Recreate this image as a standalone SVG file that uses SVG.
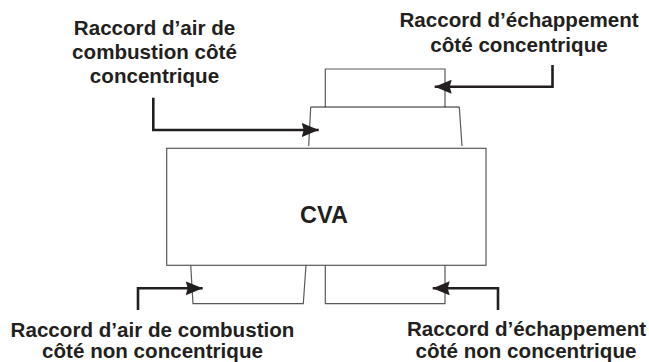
<svg xmlns="http://www.w3.org/2000/svg" width="649" height="362" viewBox="0 0 649 362">
<style>
text{font-family:"Liberation Sans",Arial,sans-serif;font-weight:bold;font-size:20.6px;fill:#231f20;text-anchor:middle}
.s{fill:none;stroke:#58595b;stroke-width:1.2}
.k{fill:none;stroke:#231f20;stroke-width:1.2}
.a{fill:none;stroke:#231f20;stroke-width:2.6}
</style>
<defs><marker id="h" markerUnits="userSpaceOnUse" markerWidth="18" markerHeight="14" refX="17" refY="7" orient="auto"><path d="M0 0L17 7L0 14L2 7Z" fill="#231f20"/></marker></defs>
<rect width="649" height="362" fill="#fff"/>
<g id="cva"><rect class="s" x="166.7" y="148.3" width="319.3" height="117"/><text x="324" y="223" style="font-size:23.5px">CVA</text></g>
<g id="top-outer"><path class="s" d="M325.3 107V69H445V107"/></g>
<g id="top-inner"><path class="s" d="M308.7 146L310.7 107M459.3 107L462 146"/><path class="k" d="M310.7 107H459.3"/></g>
<g id="bottom-left"><path class="s" d="M190.7 265L193 303.7H303.3L306 265"/></g>
<g id="bottom-right"><path class="s" d="M325.3 265V303.7H445V265"/></g>
<g id="connectors">
<path class="a" marker-end="url(#h)" d="M153.3 97.7V130H318.7"/>
<path class="a" marker-end="url(#h)" d="M552.5 65V86.7H434.7"/>
<path class="a" marker-end="url(#h)" d="M138 310V288.3H202.7"/>
<path class="a" marker-end="url(#h)" d="M498 310V288.3H432.7"/>
</g>
<g id="labels">
<text x="154.5" y="35">Raccord d’air de</text><text x="154.5" y="59">combustion côté</text><text x="154.5" y="83">concentrique</text>
<text x="519" y="27">Raccord d’échappement</text><text x="519" y="52">côté concentrique</text>
<text x="152.5" y="336.5">Raccord d’air de combustion</text><text x="152.5" y="358">côté non concentrique</text>
<text x="526.5" y="336">Raccord d’échappement</text><text x="526" y="358">côté non concentrique</text>
</g>
</svg>
